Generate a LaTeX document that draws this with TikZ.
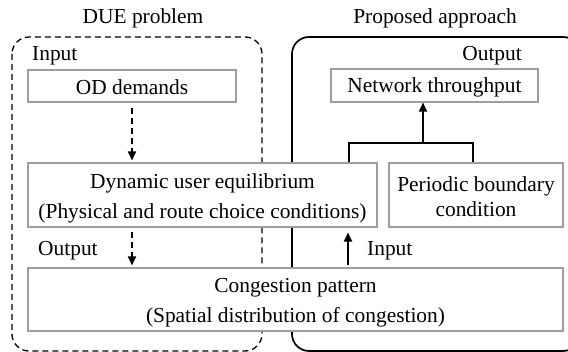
\documentclass[tikz,border=0pt]{standalone}
\usepackage{fontspec}
\setmainfont{Liberation Serif}
\usetikzlibrary{arrows.meta}
\begin{document}
\begin{tikzpicture}[x=1pt,y=-1pt,
  every node/.style={font=\fontsize{21.4}{30}\selectfont, inner sep=0pt},
  box/.style={draw=black!38, line width=1.1pt, fill=white},
  txt/.style={align=center},
  frame/.style={line width=1.7pt, rounded corners=17pt},
  arr/.style={line width=1.8pt, -{Triangle[length=9pt,width=8pt]}},
  con/.style={line width=1.5pt}]
\useasboundingbox (0,0) rectangle (568,352);
% frames
\draw[frame, dashed, dash pattern=on 6pt off 4pt, line width=1.3pt] (12,37) rectangle (262,351);
\draw[frame] (292,37) rectangle (580,351);
% titles
\node (t1) at (143,18) {DUE problem};
\node (t2) at (435,18) {Proposed approach};
% labels
\node[anchor=west] (in1) at (32,56) {Input};
\node[anchor=east] (out1) at (522,56) {Output};
\node[anchor=west] (out2) at (38,251) {Output};
\node[anchor=west] (in2) at (367,251) {Input};
% boxes
\node[box, minimum width=208pt, minimum height=32pt] (od) at (132,86) {};
\node[txt] (odt) at ([yshift=-1pt]od.center) {OD demands};
\node[box, minimum width=207pt, minimum height=33pt] (nt) at (434.5,85.5) {};
\node[txt] (ntt) at ([yshift=-1.5pt]nt.center) {Network throughput};
\node[box, minimum width=349pt, minimum height=64pt] (due) at (202.5,195) {};
\node[txt] (duet) at ([yshift=-3pt]due.center) {Dynamic user equilibrium\\(Physical and route choice conditions)};
\node[box, minimum width=174pt, minimum height=64pt] (pb) at (476,195) {};
\node[txt, font=\fontsize{21.4}{25}\selectfont] (pbt) at ([yshift=-2pt]pb.center) {Periodic boundary\\condition};
\node[box, minimum width=535pt, minimum height=63pt] (cp) at (295.5,299.5) {};
\node[txt] (cpt) at ([yshift=-3pt]cp.center) {Congestion pattern\\(Spatial distribution of congestion)};
% connectors
\coordinate (j) at (423,143);
\draw[con] (due.north -| 349,0) |- (j) -| (pb.north -| 473,0);
\draw[arr] (j) -- (nt.south -| j);
\draw[arr, dashed, dash pattern=on 6pt off 4pt] ([yshift=-5pt]od.south) -- ([yshift=2pt]due.north -| od.south);
\draw[arr, dashed, dash pattern=on 6pt off 4pt] ([yshift=-4pt]due.south -| od.south) -- ([yshift=2pt]cp.north -| od.south);
\draw[arr] ([yshift=2pt]cp.north -| 348,0) -- ([yshift=-5pt]due.south -| 348,0);
\end{tikzpicture}
\end{document}
